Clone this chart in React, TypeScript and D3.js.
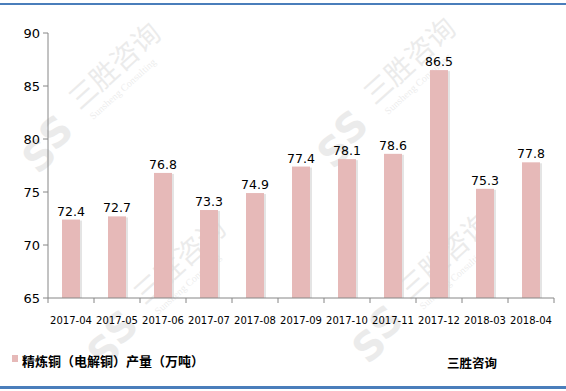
import React from 'react';
import * as d3 from 'd3';

const months = [
  '2017-04', '2017-05', '2017-06', '2017-07', '2017-08', '2017-09',
  '2017-10', '2017-11', '2017-12', '2018-03', '2018-04',
];
const output = [72.4, 72.7, 76.8, 73.3, 74.9, 77.4, 78.1, 78.6, 86.5, 75.3, 77.8];
const yTicks = [65, 70, 75, 80, 85, 90];
const seriesName = '精炼铜（电解铜）产量（万吨）';
const brand = '三胜咨询';
const watermarkSpots = [
  [45, 150],
  [340, 145],
  [110, 345],
  [375, 340],
];

const W = 566;
const H = 391;
const left = 48;
const right = 554;
const top = 33;
const bottom = 298;

const num = "'DejaVu Sans', Verdana, sans-serif";
const cjk = "'Noto Sans CJK SC', sans-serif";

function Watermark({ x, y }: { x: number; y: number }) {
  return (
    <g transform={`translate(${x},${y}) rotate(-42)`} opacity={0.11} fill="#555">
      <text x={-8} y={14} fontSize={40} fontWeight="bold" fontFamily={num} textAnchor="middle">S</text>
      <text x={20} y={8} fontSize={40} fontWeight="bold" fontFamily={num} textAnchor="middle">S</text>
      <text x={52} y={-6} fontSize={28} fontFamily={cjk}>{brand}</text>
      <text x={56} y={10} fontSize={10} fontFamily="'Liberation Serif', serif">Sunsheng Consulting</text>
    </g>
  );
}

export default function App() {
  const x = d3
    .scaleBand<string>()
    .domain(months)
    .range([left, right])
    .paddingInner(28 / 46)
    .paddingOuter(14 / 46);
  const y = d3.scaleLinear().domain([65, 90]).range([bottom, top]);
  const step = x.step();
  const bw = x.bandwidth();

  return (
    <svg width={W} height={H} style={{ position: 'absolute', left: 0, top: 0, background: '#fff' }}>
      <rect x={0} y={3} width={W} height={2} fill="#4a7ebb" />
      <rect x={0} y={386} width={W} height={3} fill="#4a7ebb" />

      {watermarkSpots.map(([wx, wy], i) => (
        <Watermark key={i} x={wx} y={wy} />
      ))}

      {/* y axis */}
      <line x1={left} x2={left} y1={top} y2={bottom} stroke="#868686" />
      {yTicks.map((t) => (
        <g key={t}>
          <line x1={left - 5} x2={left} y1={y(t)} y2={y(t)} stroke="#868686" />
          <text x={40} y={y(t) + 5} textAnchor="end" fontSize={13} fontFamily={num} fill="#000">
            {t}
          </text>
        </g>
      ))}

      {/* bars */}
      {months.map((m, i) => {
        const bx = x(m) as number;
        const by = y(output[i]);
        return (
          <g key={m}>
            <rect x={bx + 2} y={by + 1} width={bw} height={bottom - by - 1} fill="#d9d9d9" opacity={0.7} />
            <rect x={bx} y={by} width={bw} height={bottom - by} fill="#e6b9b8" />
            <text
              x={bx + bw / 2}
              y={by - 4}
              textAnchor="middle"
              fontSize={12.5}
              fontFamily={num}
              fill="#000"
            >
              {output[i].toFixed(1)}
            </text>
          </g>
        );
      })}

      {/* x axis */}
      <line x1={left} x2={right} y1={bottom} y2={bottom} stroke="#868686" />
      {d3.range(months.length + 1).map((i) => (
        <line
          key={i}
          x1={left + i * step}
          x2={left + i * step}
          y1={bottom}
          y2={bottom + 5}
          stroke="#868686"
        />
      ))}
      {months.map((m) => (
        <text
          key={m}
          x={(x(m) as number) + bw / 2}
          y={324}
          textAnchor="middle"
          fontSize={10}
          fontFamily={num}
          fill="#000"
        >
          {m}
        </text>
      ))}

      {/* legend */}
      <rect x={12} y={355} width={6} height={7} fill="#e6b9b8" />
      <text x={22} y={366} fontSize={13} fontWeight="bold" fontFamily={cjk} fill="#000">
        {seriesName}
      </text>
      <text x={447} y={368} fontSize={12.5} fontWeight="bold" fontFamily={cjk} fill="#000">
        {brand}
      </text>
    </svg>
  );
}
